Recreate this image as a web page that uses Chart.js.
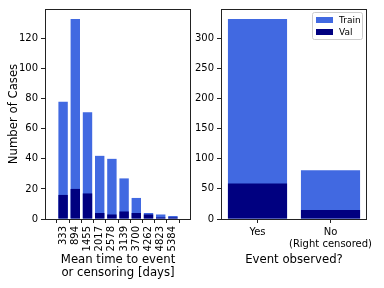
<!DOCTYPE html>
<html><head><meta charset="utf-8">
<script src="https://cdn.jsdelivr.net/npm/chart.js@4"></script>
<style>
html,body{margin:0;padding:0;background:#fff;}
#wrap{position:relative;width:384px;height:288px;}
canvas{position:absolute;left:0;top:0;}
</style></head><body>
<div id="wrap"><canvas id="c1" width="384" height="288"></canvas><canvas id="c2" width="384" height="288"></canvas></div>
<script>
const timeLabels = ['333','894','1455','2017','2578','3139','3700','4262','4823','5384'];
const timeTrain = [78,133,71,42,40,27,14,4,3,2];
const timeVal = [16,20,17,4,3,5,4,3,1,1];
const eventLabels = ['Yes', ['No','(Right censored)']];
const eventTrain = [332,81];
const eventVal = [59,15];
const leftYTicks = [0,20,40,60,80,100,120];
const rightYTicks = [0,50,100,150,200,250,300];

const TRAIN = '#4169E1', VAL = '#000080';
const FONT = 'DejaVu Sans';
Chart.defaults.font.family = FONT;
Chart.defaults.color = '#000';
Chart.defaults.animation = false;

const frame = {
  id:'frame',
  afterDatasetsDraw(chart){
    const a = chart.chartArea, ctx = chart.ctx;
    ctx.save(); ctx.strokeStyle='#222'; ctx.lineWidth=1;
    ctx.strokeRect(Math.round(a.left)+0.5, Math.round(a.top)+0.5, Math.round(a.right-a.left)-1, Math.round(a.bottom-a.top));
    ctx.restore();
  }
};
const legendBox = {
  id:'legendBox',
  afterDraw(chart){
    const ctx = chart.ctx;
    ctx.save();
    ctx.fillStyle='rgba(255,255,255,0.8)';
    ctx.strokeStyle='#ccc'; ctx.lineWidth=1;
    ctx.beginPath();
    ctx.roundRect(312.5,12.5,50,27,2);
    ctx.fill(); ctx.stroke();
    const items=[['Train',TRAIN,20],['Val',VAL,32]];
    ctx.font='9px '+FONT; ctx.textBaseline='middle'; ctx.textAlign='left';
    for(const [t,c,y] of items){
      ctx.fillStyle=c; ctx.fillRect(316,y-3,17,6);
      ctx.fillStyle='#000'; ctx.fillText(t,339,y+0.5);
    }
    ctx.restore();
  }
};

function yAxis(width, max, ticks, title){
  return {
    min:0, max:max,
    afterFit(s){ s.width = width; },
    afterBuildTicks(s){ s.ticks = ticks.map(v=>({value:v})); },
    ticks:{font:{size:10}, padding:3, color:'#000'},
    grid:{drawOnChartArea:false, drawTicks:true, tickLength:4, color:'#222'},
    border:{display:false},
    title: title ? {display:true, text:title, font:{size:11.7}, color:'#000', padding:{top:7,bottom:2}} : {display:false}
  };
}

new Chart(document.getElementById('c1'), {
  type:'bar',
  data:{datasets:[
    {label:'Train', data:timeTrain.map((v,i)=>({x:i,y:v})), backgroundColor:TRAIN, order:2},
    {label:'Val', data:timeVal.map((v,i)=>({x:i,y:v})), backgroundColor:VAL, order:1}
  ]},
  options:{
    responsive:false,
    layout:{padding:{left:0,right:193,top:9,bottom:0}},
    datasets:{bar:{grouped:false, barPercentage:1, categoryPercentage:0.77}},
    plugins:{legend:{display:false}, tooltip:{enabled:false}},
    scales:{
      x:{type:'linear', min:-0.885, max:9.885,
        afterFit(s){ s.height = 69; },
        afterBuildTicks(s){ s.ticks = timeLabels.map((_,i)=>({value:i})); },
        ticks:{font:{size:10}, padding:3, minRotation:90, maxRotation:90, autoSkip:false, color:'#000',
          callback:(v)=>timeLabels[v]},
        grid:{drawOnChartArea:false, drawTicks:true, tickLength:4, color:'#222'},
        border:{display:false},
        title:{display:true, text:['Mean time to event','or censoring [days]'], font:{size:11.7, lineHeight:1.15}, color:'#000', padding:{top:0,bottom:8}}
      },
      y: yAxis(45, 139.65, leftYTicks, 'Number of Cases')
    }
  },
  plugins:[frame]
});

new Chart(document.getElementById('c2'), {
  type:'bar',
  data:{labels:eventLabels, datasets:[
    {label:'Train', data:eventTrain, backgroundColor:TRAIN, order:2},
    {label:'Val', data:eventVal, backgroundColor:VAL, order:1}
  ]},
  options:{
    responsive:false,
    layout:{padding:{left:191,right:17,top:9,bottom:0}},
    datasets:{bar:{grouped:false, barPercentage:0.81, categoryPercentage:1}},
    plugins:{legend:{display:false}, tooltip:{enabled:false}},
    scales:{
      x:{
        afterFit(s){ s.height = 69; },
        ticks:{font:{size:10}, padding:3, minRotation:0, maxRotation:0, autoSkip:false, color:'#000'},
        grid:{drawOnChartArea:false, drawTicks:true, tickLength:4, color:'#222', offset:false},
        border:{display:false},
        title:{display:true, text:'Event observed?', font:{size:11.7}, color:'#000', padding:{top:0,bottom:21}}
      },
      y: yAxis(30, 348.6, rightYTicks, null)
    }
  },
  plugins:[frame, legendBox]
});
</script></body></html>
